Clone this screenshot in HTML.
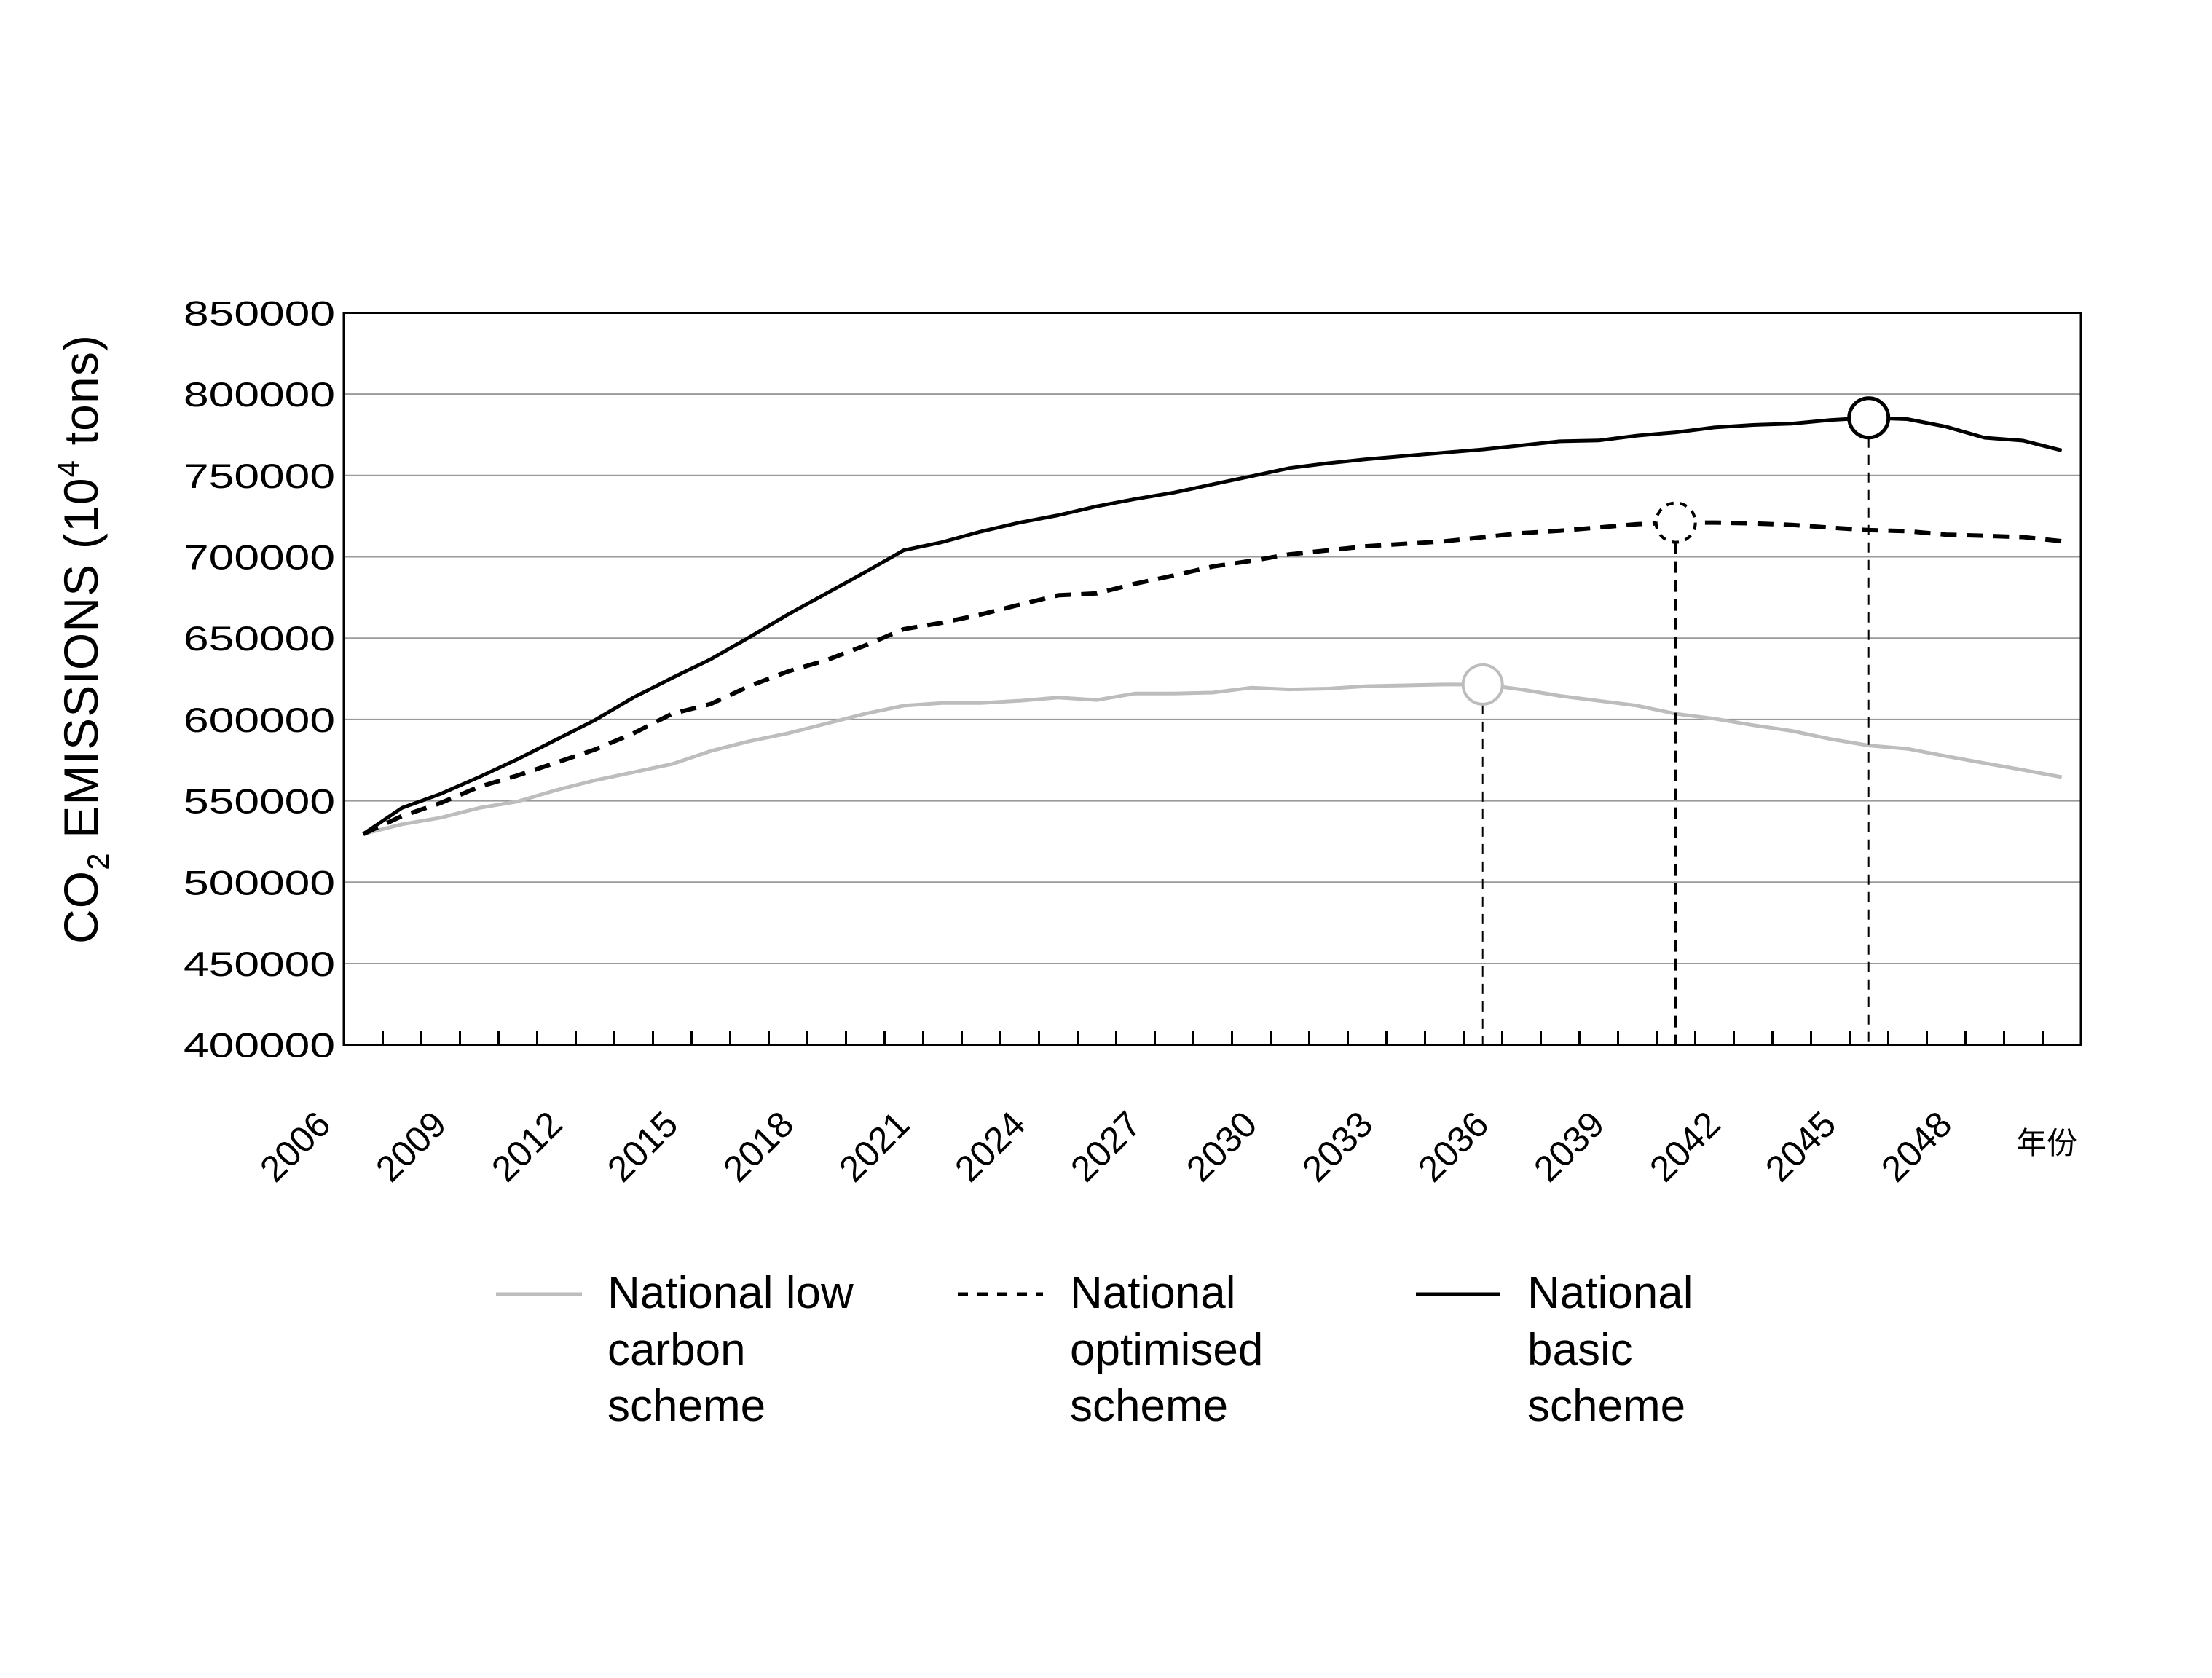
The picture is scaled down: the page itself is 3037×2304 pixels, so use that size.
<!DOCTYPE html>
<html><head><meta charset="utf-8"><style>
html,body{margin:0;padding:0;background:#fff;}
svg{display:block;font-family:"Liberation Sans","Noto Sans CJK SC",sans-serif;}
</style></head><body>
<svg id="chart" width="3037" height="2304" viewBox="0 0 3037 2304">
<g id="grid"></g>
<g id="yticks"></g>
<g id="xticks"></g>
<g id="series"></g>
<rect x="472" y="429.5" width="2385" height="1005" fill="none" stroke="#000" stroke-width="3"/>
<text x="0" y="0" font-size="66" text-anchor="middle" textLength="836" transform="translate(134,878) rotate(-90)">CO<tspan font-size="42" dy="15">2</tspan><tspan dy="-15"> EMISSIONS (10</tspan><tspan font-size="42" dy="-26">4</tspan><tspan dy="26"> tons)</tspan></text>
<text x="2810" y="1584" font-size="42" text-anchor="middle">年份</text>
<g>
  <g>
    <line x1="681" y1="1777" x2="799" y2="1777" stroke="#bdbdbd" stroke-width="5"/>
    <text x="834" y="1796" font-size="62">National low</text>
    <text x="834" y="1874" font-size="62">carbon</text>
    <text x="834" y="1951" font-size="62">scheme</text>
  </g>
  <g>
    <line x1="1315" y1="1777" x2="1432" y2="1777" stroke="#000" stroke-width="5" stroke-dasharray="14 13"/>
    <text x="1469" y="1796" font-size="62">National</text>
    <text x="1469" y="1874" font-size="62">optimised</text>
    <text x="1469" y="1951" font-size="62">scheme</text>
  </g>
  <g>
    <line x1="1944" y1="1777" x2="2060" y2="1777" stroke="#000" stroke-width="5"/>
    <text x="2097" y="1796" font-size="62">National</text>
    <text x="2097" y="1874" font-size="62">basic</text>
    <text x="2097" y="1951" font-size="62">scheme</text>
  </g>
</g>
</svg>
<script>
const years = [];
for (let y = 2006; y <= 2050; y++) years.push(y);
const yTickValues = [400000,450000,500000,550000,600000,650000,700000,750000,800000,850000];
const lowCarbon = [529600,535600,539600,545600,549600,556600,562600,567600,572600,580600,586600,591500,597500,603500,608500,610100,610100,611500,613500,612000,616000,616000,616500,619500,618500,619000,620500,621000,621500,621500,618500,614500,611500,608500,603500,600500,596500,593000,588000,584000,582000,577500,573200,569000,564600];
const optimised = [529600,540600,548600,558600,565600,573500,581500,591500,603500,609500,620500,629500,636500,645500,655500,659500,664500,670500,676300,677500,683500,688500,694000,697500,701500,704000,706500,708000,709500,712000,714500,716000,718000,720000,721000,721000,720500,719600,717900,716400,715700,713600,712900,712100,709600];
const basic = [529600,545600,554200,564600,575600,587600,599600,613500,625500,637000,650500,664500,677500,690500,704000,709000,715500,721000,725500,731000,735500,739500,744500,749500,754500,757500,760000,762000,764000,766000,768500,771000,771500,774500,776500,779500,781000,781800,784000,785400,784600,780000,773200,771400,765400];
const peakLow = 29, peakOpt = 34, peakBasic = 39;

const NS = "http://www.w3.org/2000/svg";
const X0 = 472, BW = 53, Y0 = 1434.7, YT = 429.4, VMIN = 400000, VMAX = 850000;
const xPos = i => X0 + 26.7 + BW * i;
const yPos = v => Y0 - (v - VMIN) / (VMAX - VMIN) * (Y0 - YT);
function mk(tag, attrs, parent) { const e = document.createElementNS(NS, tag); for (const k in attrs) e.setAttribute(k, attrs[k]); parent.appendChild(e); return e; }

const grid = document.getElementById('grid');
const yt = document.getElementById('yticks');
yTickValues.forEach(v => {
  if (v > VMIN && v < VMAX) {
    const g = mk('line', {x1: X0, x2: X0 + 2385, y1: yPos(v), y2: yPos(v), stroke: '#9a9a9a', 'stroke-width': 2}, grid);
    
    
  }
  const t = mk('text', {x: 460, y: yPos(v) + 17, 'font-size': 47, 'text-anchor': 'end', textLength: 208, lengthAdjust: 'spacingAndGlyphs'}, yt);
  t.textContent = v;
  
  
});

const xt = document.getElementById('xticks');
for (let k = 1; k < years.length; k++) {
  const x = X0 + BW * k + 0.5;
  const l = mk('line', {x1: x, x2: x, y1: Y0 - 19, y2: Y0, stroke: '#000', 'stroke-width': 3}, xt);
  
  
}
years.forEach((yr, i) => {
  if (i % 3 !== 0) return;
  const ax = xPos(i) - 42, ay = 1547;
  const t = mk('text', {x: ax, y: ay, 'font-size': 50, 'text-anchor': 'end', transform: `rotate(-45 ${ax} ${ay})`}, xt);
  t.textContent = yr;
  
  
});

const sg = document.getElementById('series');
function drawLine(arr, name, attrs) {
  const pts = arr.map((v, i) => xPos(i).toFixed(1) + ',' + yPos(v).toFixed(1)).join(' ');
  const p = mk('polyline', Object.assign({points: pts, fill: 'none', 'stroke-linejoin': 'round'}, attrs), sg);
  
  
}
function drawPeak(arr, idx, name, color, circAttrs, dropAttrs) {
  const cx = xPos(idx), cy = yPos(arr[idx]), r = 27;
  const d = mk('line', Object.assign({x1: cx, x2: cx, y1: cy + r, y2: Y0, stroke: '#000'}, dropAttrs), sg);
  
  
  const c = mk('circle', Object.assign({cx: cx, cy: cy, r: r, fill: '#fff', stroke: color}, circAttrs), sg);
  
  
}
drawLine(lowCarbon, 'line-low-carbon', {stroke: '#bdbdbd', 'stroke-width': 5});
drawLine(optimised, 'line-optimised', {stroke: '#000', 'stroke-width': 6, 'stroke-dasharray': '22 14'});
drawLine(basic, 'line-basic', {stroke: '#000', 'stroke-width': 5});
drawPeak(lowCarbon, peakLow, 'low-carbon', '#bdbdbd', {'stroke-width': 4}, {'stroke-width': 2, 'stroke-dasharray': '14 10'});
drawPeak(optimised, peakOpt, 'optimised', '#000', {'stroke-width': 4, 'stroke-dasharray': '10 9'}, {'stroke-width': 4, 'stroke-dasharray': '16 10'});
drawPeak(basic, peakBasic, 'basic', '#000', {'stroke-width': 5}, {'stroke-width': 2, 'stroke-dasharray': '14 10'});
</script>
</body></html>
